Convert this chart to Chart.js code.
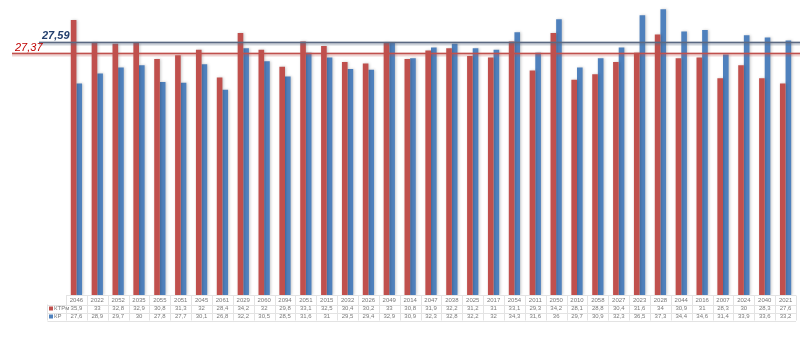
<!DOCTYPE html>
<html>
<head>
<meta charset="utf-8">
<script src="https://cdn.jsdelivr.net/npm/chart.js@4.4.1/dist/chart.umd.min.js"></script>
<style>
    html, body { margin: 0; padding: 0; background: #ffffff; }
    #wrap { width: 800px; height: 339px; position: relative; }
</style>
</head>
<body>
<div id="wrap"><canvas id="chart"></canvas></div>
<script>
// Данные
const categories = ['2046', '2022', '2052', '2035', '2055', '2051', '2045', '2061', '2029', '2060',
    '2094', '2051', '2015', '2032', '2026', '2049', '2014', '2047', '2038', '2025',
    '2017', '2054', '2011', '2050', '2010', '2058', '2027', '2023', '2028', '2044',
    '2016', '2007', '2024', '2040', '2021'];
const seriesNames = ['КТРм', 'КР'];
const redValues = [35.9, 33, 32.8, 32.9, 30.8, 31.3, 32, 28.4, 34.2, 32,
    29.8, 33.1, 32.5, 30.4, 30.2, 33, 30.8, 31.9, 32.2, 31.2,
    31, 33.1, 29.3, 34.2, 28.1, 28.8, 30.4, 31.6, 34, 30.9,
    31, 28.3, 30, 28.3, 27.6];
const blueValues = [27.6, 28.9, 29.7, 30, 27.8, 27.7, 30.1, 26.8, 32.2, 30.5,
    28.5, 31.6, 31, 29.5, 29.4, 32.9, 30.9, 32.3, 32.8, 32.2,
    32, 34.3, 31.6, 36, 29.7, 30.9, 32.3, 36.5, 37.3, 34.4,
    34.6, 31.4, 33.9, 33.6, 33.2];
// Горизонтальные линии с подписями
const refLabels = ['27,59', '27,37'];
const refValues = [33.05, 31.53];

const RED = '#c0504d';
const BLUE = '#4f81bd';

function fmt(v) {
    return String(v).replace('.', ',');
}

// Тень у столбцов
const shadowPlugin = {
    id: 'barShadow',
    beforeDatasetsDraw(chart) {
        const ctx = chart.ctx;
        ctx.save();
        ctx.shadowColor = 'rgba(0,0,0,0.22)';
        ctx.shadowBlur = 3;
        ctx.shadowOffsetX = 1;
        ctx.shadowOffsetY = 0;
    },
    afterDatasetsDraw(chart) {
        chart.ctx.restore();
    }
};

// Линии 27,59 и 27,37
const refLinesPlugin = {
    id: 'refLines',
    afterDatasetsDraw(chart) {
        const ctx = chart.ctx;
        const y = chart.scales.y;
        const styles = [
            { color: '#5b6982', halo: 'rgba(91,105,130,0.3)', text: '#24406e', font: 'italic bold 11px "Liberation Sans"', x0: 39, tx: 42, dy: -7 },
            { color: '#c0504d', halo: 'rgba(192,80,77,0.25)', text: '#c00000', font: 'italic 11px "Liberation Sans"', x0: 12, tx: 15, dy: -6 }
        ];
        refValues.forEach((v, i) => {
            const s = styles[i];
            const py = Math.round(y.getPixelForValue(v)) + 0.5;
            ctx.save();
            ctx.strokeStyle = s.halo;
            ctx.lineWidth = 4;
            ctx.beginPath();
            ctx.moveTo(s.x0, py + 1);
            ctx.lineTo(800, py + 1);
            ctx.stroke();
            ctx.strokeStyle = s.color;
            ctx.lineWidth = 1.6;
            ctx.beginPath();
            ctx.moveTo(s.x0, py);
            ctx.lineTo(800, py);
            ctx.stroke();
            ctx.fillStyle = s.text;
            ctx.font = s.font;
            ctx.textAlign = 'left';
            ctx.textBaseline = 'middle';
            ctx.fillText(refLabels[i], s.tx, py + s.dy);
            ctx.restore();
        });
    }
};

// Таблица данных под графиком
const dataTablePlugin = {
    id: 'dataTable',
    afterDraw(chart) {
        const ctx = chart.ctx;
        const x = chart.scales.x;
        const n = categories.length;
        const w = (x.right - x.left) / n;
        const top = chart.chartArea.bottom + 0.5;
        const rows = [top, top + 9, top + 17, top + 25];
        const legendLeft = 47.5;

        ctx.save();
        ctx.strokeStyle = '#e3e3e3';
        ctx.lineWidth = 1;
        ctx.beginPath();
        ctx.moveTo(x.left, rows[0]);
        ctx.lineTo(x.right, rows[0]);
        for (let r = 1; r < rows.length; r++) {
            ctx.moveTo(legendLeft, Math.round(rows[r]) + 0.5);
            ctx.lineTo(x.right, Math.round(rows[r]) + 0.5);
        }
        for (let i = 0; i <= n; i++) {
            const cx = Math.round(x.left + i * w) + 0.5;
            ctx.moveTo(cx, rows[0]);
            ctx.lineTo(cx, rows[3]);
        }
        ctx.moveTo(legendLeft, rows[1]);
        ctx.lineTo(legendLeft, rows[3]);
        ctx.stroke();

        ctx.fillStyle = '#7a7a7a';
        ctx.font = '6px "Liberation Sans"';
        ctx.textAlign = 'center';
        ctx.textBaseline = 'middle';
        const series = [redValues, blueValues];
        for (let i = 0; i < n; i++) {
            const cx = x.getPixelForValue(i);
            ctx.fillText(categories[i], cx, (rows[0] + rows[1]) / 2);
            ctx.fillText(fmt(series[0][i]), cx, (rows[1] + rows[2]) / 2);
            ctx.fillText(fmt(series[1][i]), cx, (rows[2] + rows[3]) / 2);
        }

        // Легенда в первой колонке
        const colors = [RED, BLUE];
        ctx.textAlign = 'left';
        for (let s = 0; s < 2; s++) {
            const cy = (rows[s + 1] + rows[s + 2]) / 2;
            ctx.fillStyle = colors[s];
            ctx.fillRect(49, cy - 2, 4, 4);
            ctx.fillStyle = '#7a7a7a';
            ctx.fillText(seriesNames[s], 54, cy);
        }
        ctx.restore();
    }
};

new Chart(document.getElementById('chart'), {
    type: 'bar',
    data: {
        labels: categories,
        datasets: [
            {
                label: seriesNames[0],
                data: redValues,
                backgroundColor: RED,
                borderWidth: 0,
                categoryPercentage: 0.54,
                barPercentage: 1.0
            },
            {
                label: seriesNames[1],
                data: blueValues,
                backgroundColor: BLUE,
                borderWidth: 0,
                categoryPercentage: 0.54,
                barPercentage: 1.0
            }
        ]
    },
    options: {
        responsive: true,
        maintainAspectRatio: false,
        animation: false,
        layout: {
            padding: { left: 66, right: 4, top: 0, bottom: 44 }
        },
        scales: {
            x: { display: false },
            y: { display: false, min: 0, max: 38.5 }
        },
        plugins: {
            legend: { display: false },
            tooltip: { enabled: true }
        }
    },
    plugins: [shadowPlugin, refLinesPlugin, dataTablePlugin]
});
</script>
</body>
</html>
